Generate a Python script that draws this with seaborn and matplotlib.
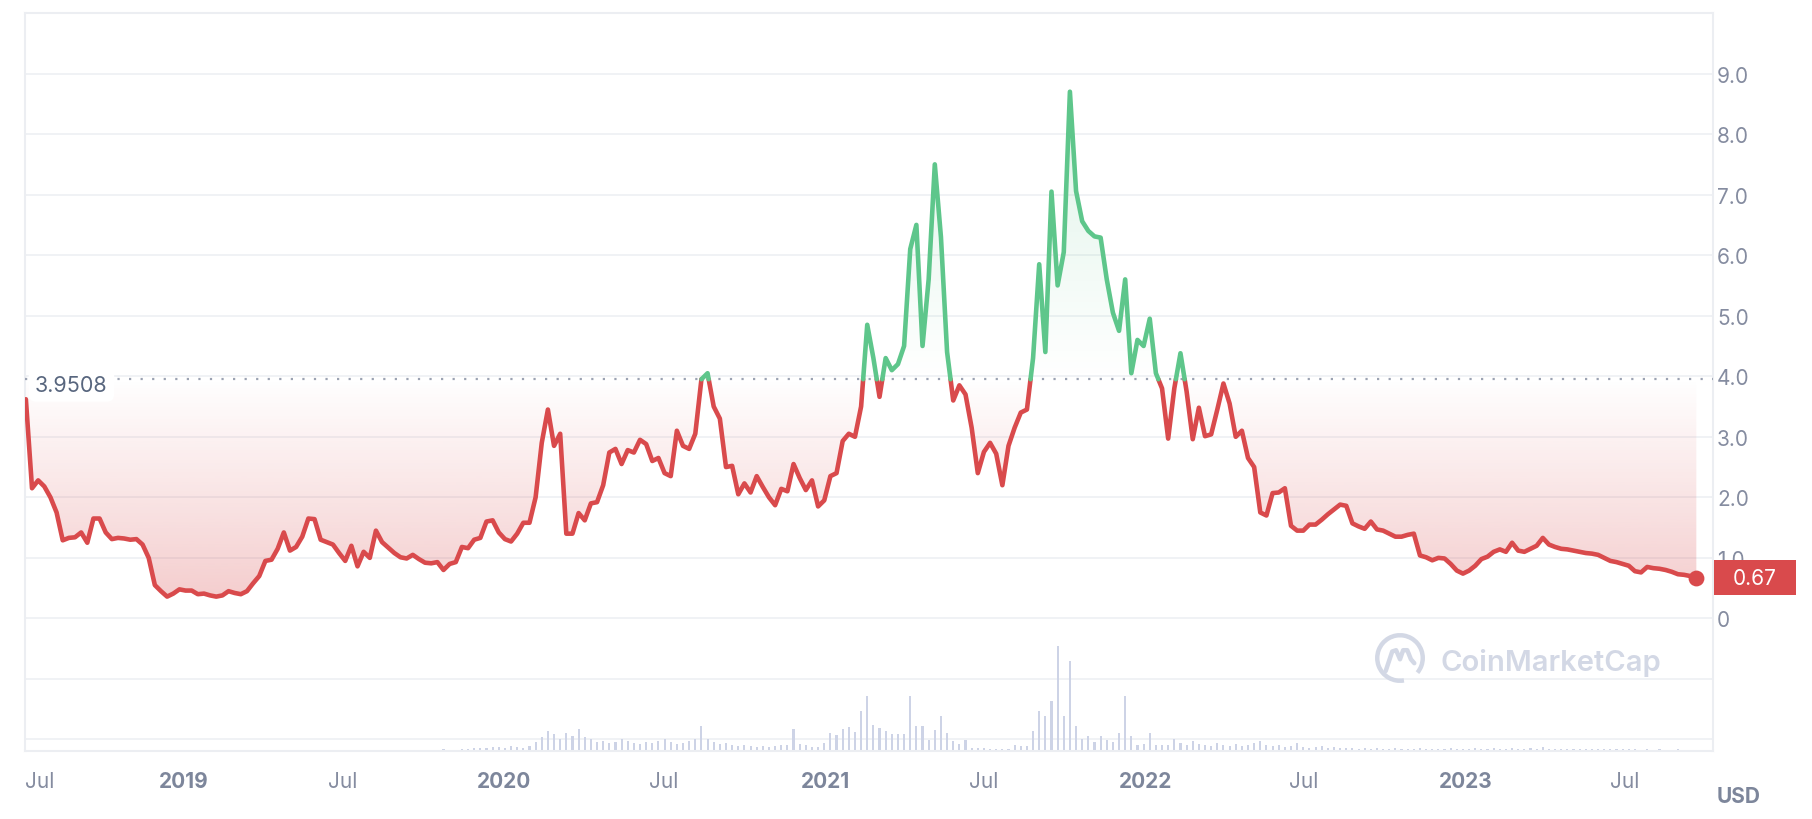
import numpy as np
import pandas as pd
import matplotlib
matplotlib.use("Agg")
import matplotlib.pyplot as plt
import matplotlib.dates as mdates
from matplotlib import transforms
from matplotlib.patches import Rectangle, Arc
import seaborn as sns

# ---------------- data ----------------
start_date = "2018-07-05"   # weekly samples
price = [
    3.62, 2.15, 2.28, 2.18, 2.00, 1.75, 1.29, 1.33, 1.34, 1.42,
    1.25, 1.65, 1.65, 1.42, 1.31, 1.33, 1.32, 1.30, 1.31, 1.22,
    1.00, 0.55, 0.45, 0.36, 0.41, 0.48, 0.46, 0.46, 0.40, 0.41,
    0.38, 0.36, 0.38, 0.45, 0.42, 0.40, 0.45, 0.58, 0.70, 0.95,
    0.97, 1.15, 1.42, 1.12, 1.18, 1.35, 1.65, 1.64, 1.30, 1.26,
    1.22, 1.08, 0.95, 1.20, 0.86, 1.10, 1.00, 1.45, 1.26, 1.17,
    1.08, 1.01, 0.99, 1.05, 0.98, 0.92, 0.91, 0.93, 0.80, 0.90,
    0.93, 1.18, 1.16, 1.30, 1.33, 1.60, 1.62, 1.42, 1.31, 1.27,
    1.40, 1.58, 1.58, 2.00, 2.90, 3.45, 2.85, 3.05, 1.40, 1.40,
    1.74, 1.62, 1.90, 1.92, 2.20, 2.74, 2.80, 2.55, 2.78, 2.74,
    2.95, 2.88, 2.60, 2.65, 2.40, 2.35, 3.10, 2.85, 2.80, 3.05,
    3.95, 4.05, 3.50, 3.30, 2.50, 2.52, 2.05, 2.23, 2.08, 2.35,
    2.17, 2.00, 1.87, 2.14, 2.10, 2.55, 2.32, 2.12, 2.28, 1.85,
    1.95, 2.35, 2.40, 2.93, 3.05, 3.00, 3.50, 4.85, 4.30, 3.66,
    4.30, 4.10, 4.20, 4.50, 6.10, 6.50, 4.50, 5.60, 7.50, 6.30,
    4.40, 3.60, 3.85, 3.70, 3.15, 2.40, 2.75, 2.90, 2.72, 2.20,
    2.85, 3.15, 3.40, 3.45, 4.30, 5.85, 4.40, 7.05, 5.50, 6.05,
    8.70, 7.06, 6.56, 6.40, 6.31, 6.29, 5.60, 5.05, 4.75, 5.60,
    4.05, 4.60, 4.50, 4.95, 4.05, 3.80, 2.97, 3.80, 4.38, 3.75,
    2.96, 3.48, 3.01, 3.04, 3.45, 3.88, 3.55, 3.00, 3.10, 2.65,
    2.50, 1.75, 1.70, 2.07, 2.08, 2.15, 1.53, 1.45, 1.45, 1.55,
    1.55, 1.63, 1.72, 1.80, 1.88, 1.86, 1.57, 1.52, 1.48, 1.60,
    1.47, 1.45, 1.40, 1.35, 1.35, 1.38, 1.40, 1.04, 1.01, 0.96,
    1.00, 0.99, 0.90, 0.79, 0.74, 0.79, 0.87, 0.98, 1.02, 1.10,
    1.14, 1.10, 1.25, 1.12, 1.10, 1.15, 1.20, 1.33, 1.22, 1.18,
    1.15, 1.14, 1.12, 1.10, 1.08, 1.07, 1.05, 1.00, 0.95, 0.93,
    0.90, 0.87, 0.78, 0.76, 0.85, 0.83, 0.82, 0.80, 0.77, 0.73,
    0.72, 0.70, 0.67,
]
volume = [
    1.0, 1.0, 0.8, 0.6, 0.5, 0.6, 0.5, 0.4, 0.5, 0.4,
    0.5, 0.4, 0.4, 0.5, 0.4, 0.4, 0.5, 0.4, 0.4, 0.3,
    0.4, 0.6, 0.4, 0.3, 0.3, 0.3, 0.3, 0.4, 0.3, 0.3,
    0.3, 0.3, 0.3, 0.4, 0.3, 0.3, 0.4, 0.5, 0.6, 0.8,
    0.9, 1.0, 1.2, 0.8, 0.8, 0.9, 1.0, 1.0, 0.8, 0.7,
    0.7, 0.7, 0.6, 0.7, 0.6, 0.7, 0.8, 1.0, 0.8, 0.7,
    0.7, 0.6, 0.7, 0.6, 0.6, 0.8, 1.0, 0.8, 1.5, 1.0,
    1.2, 2.0, 1.5, 2.5, 3.0, 2.5, 3.5, 4.0, 3.0, 5.0,
    4.0, 3.0, 5.0, 9.0, 14.0, 20.0, 17.0, 12.0, 18.0, 15.0,
    22.0, 14.0, 12.0, 9.0, 10.0, 8.0, 9.0, 12.0, 10.0, 8.0,
    7.0, 9.0, 8.0, 10.0, 12.0, 9.0, 7.0, 8.0, 10.0, 12.0,
    25.0, 12.0, 9.0, 7.0, 8.0, 6.0, 5.0, 6.0, 5.0, 4.0,
    5.0, 4.0, 5.0, 6.0, 6.0, 22.0, 7.0, 6.0, 4.0, 4.0,
    8.0, 18.0, 16.0, 22.0, 24.0, 19.0, 40.0, 55.0, 26.0, 23.0,
    20.0, 17.0, 17.0, 17.0, 55.0, 25.0, 25.0, 11.0, 21.0, 35.0,
    18.0, 10.0, 7.0, 11.0, 3.0, 3.0, 3.0, 2.0, 2.0, 2.0,
    2.0, 6.0, 5.0, 5.0, 20.0, 40.0, 35.0, 50.0, 105.0, 35.0,
    90.0, 25.0, 12.0, 15.0, 9.0, 15.0, 11.0, 9.0, 18.0, 55.0,
    15.0, 6.0, 7.0, 18.0, 6.0, 6.0, 6.0, 12.0, 8.0, 6.0,
    10.0, 7.0, 6.0, 5.0, 8.0, 6.0, 5.0, 7.0, 5.0, 6.0,
    8.0, 10.0, 6.0, 5.0, 6.0, 4.0, 5.0, 8.0, 4.0, 3.0,
    4.0, 5.0, 3.0, 4.0, 3.0, 3.0, 3.0, 2.0, 3.0, 2.0,
    3.0, 2.0, 2.0, 3.0, 2.0, 2.0, 2.0, 3.0, 2.0, 2.0,
    2.0, 2.0, 3.0, 2.0, 2.0, 2.0, 3.0, 2.0, 2.0, 3.0,
    2.0, 2.0, 3.0, 2.0, 2.0, 3.0, 2.0, 4.0, 2.0, 2.0,
    2.0, 2.0, 2.0, 2.0, 2.0, 2.0, 2.0, 2.0, 2.0, 2.0,
    2.0, 2.0, 2.0, 1.0, 2.0, 1.0, 2.0, 1.0, 1.0, 2.0,
    1.0, 1.0, 1.0,
]
baseline = 3.9508
baseline_label = "3.9508"
last_price_label = "0.67"
y_tick_values = [0, 1, 2, 3, 4, 5, 6, 7, 8, 9]
y_tick_labels = ["0", "1.0", "2.0", "3.0", "4.0", "5.0", "6.0", "7.0", "8.0", "9.0"]
x_tick_dates = ["2019-01-01", "2019-07-01", "2020-01-01", "2020-07-01", "2021-01-01",
                "2021-07-01", "2022-01-01", "2022-07-01", "2023-01-01", "2023-07-01"]
x_tick_labels = ["2019", "Jul", "2020", "Jul", "2021", "Jul", "2022", "Jul", "2023", "Jul"]
first_edge_label = "Jul"
currency = "USD"
watermark = "CoinMarketCap"
x_range = ("2018-07-04", "2023-10-10")

# ---------------- style ----------------
RED = "#d94a4c"
GREEN = "#5ec68b"
GRID = "#eff1f5"
TXT = "#858ca0"
TXT_DARK = "#58667e"
VOLC = "#cdd3e6"

sns.set_theme(style="white")
plt.rcParams["font.family"] = ["Inter", "DejaVu Sans"]

W, H = 1812, 820
fig = plt.figure(figsize=(W / 100, H / 100), dpi=100)
ax = fig.add_axes([25 / W, 68 / H, (1713 - 25) / W, (806 - 68) / H])
YMIN, YMAX = -2.19, 10.0

n = min(len(price), len(volume))
dates = pd.date_range(start_date, periods=len(price), freq="7D")
x = mdates.date2num(dates.to_pydatetime())
y = np.asarray(price, dtype=float)
b = baseline

# densify with baseline crossings
xs, ys = [x[0]], [y[0]]
for i in range(1, len(y)):
    if (y[i - 1] - b) * (y[i] - b) < 0:
        t = (b - y[i - 1]) / (y[i] - y[i - 1])
        xs.append(x[i - 1] + t * (x[i] - x[i - 1]))
        ys.append(b)
    xs.append(x[i])
    ys.append(y[i])
xs = np.array(xs)
ys = np.array(ys)

# build runs of same sign
rows = []
run = 0
cur_sign = None
for j in range(1, len(xs)):
    s = "up" if (ys[j - 1] + ys[j]) / 2 >= b else "down"
    if s != cur_sign:
        run += 1
        cur_sign = s
        rows.append((xs[j - 1], ys[j - 1], s, run))
    rows.append((xs[j], ys[j], s, run))
df = pd.DataFrame(rows, columns=["date", "price", "sign", "run"])

# gradients
ylow = np.minimum(ys, b)
yhigh = np.maximum(ys, b)
pr = ax.fill_between(xs, ylow, b, color="none", lw=0)
pg = ax.fill_between(xs, b, yhigh, color="none", lw=0)

def grad_img(color, a0, a1, n=256):
    rgb = matplotlib.colors.to_rgb(color)
    arr = np.zeros((n, 1, 4))
    arr[:, 0, :3] = rgb
    arr[:, 0, 3] = np.linspace(a0, a1, n)
    return arr

imr = ax.imshow(grad_img(RED, 0.0, 0.30), extent=[xs[0], xs[-1], 0.0, b],
                origin="upper", aspect="auto", zorder=1, interpolation="bilinear")
imr.set_clip_path(pr.get_paths()[0], ax.transData)
img = ax.imshow(grad_img(GREEN, 0.0, 0.22), extent=[xs[0], xs[-1], b, 9.0],
                origin="lower", aspect="auto", zorder=1, interpolation="bilinear")
img.set_clip_path(pg.get_paths()[0], ax.transData)

# grid lines
for gv in range(-2, 10):
    ax.axhline(gv, color=GRID, lw=1.3, zorder=0)

# volume bars
vol = np.asarray(volume[:n], dtype=float)
vscale = 1.0 / 60.5
ax.bar(x[:n], vol * vscale, bottom=YMIN, width=2.4, color=VOLC, zorder=1, linewidth=0)

# price line with seaborn
sns.lineplot(data=df, x="date", y="price", hue="sign", units="run", estimator=None,
             palette={"up": GREEN, "down": RED}, linewidth=3.3, legend=False,
             sort=False, ax=ax, zorder=4)
for ln in ax.lines:
    ln.set_solid_capstyle("round")
    ln.set_solid_joinstyle("round")

# baseline dotted
ax.axhline(b, color="#9ba2b2", lw=1.6, linestyle=(0, (1, 4.2)), zorder=3)
blend = transforms.blended_transform_factory(ax.transAxes, ax.transData)
ax.text(0.006, b - 0.1, baseline_label, transform=blend, ha="left", va="center",
        fontsize=15.5, color=TXT_DARK, zorder=6,
        bbox=dict(boxstyle="round,pad=0.3,rounding_size=0.35", fc="white", ec="none"))

# last point
ax.scatter([x[-1]], [y[-1]], s=130, color=RED, zorder=7, clip_on=False, linewidths=0)
rect = Rectangle((1.0006, y[-1] - 0.289), 82 / 1688, 0.578, transform=blend,
                 facecolor=RED, edgecolor="none", clip_on=False, zorder=10)
ax.add_patch(rect)
ax.text(1.0006 + 19 / 1688, y[-1], last_price_label, transform=blend, ha="left",
        va="center", color="white", fontsize=15, zorder=11, clip_on=False)

# axes
ax.set_ylim(YMIN, YMAX)
ax.set_xlim(mdates.datestr2num(x_range[0]), mdates.datestr2num(x_range[1]))
ax.set_xlabel("")
ax.set_ylabel("")
ax.yaxis.tick_right()
ax.set_yticks(list(range(-2, 0)) + y_tick_values)
ax.set_yticklabels(["", ""] + y_tick_labels)
ax.tick_params(axis="y", length=0, pad=3, labelsize=15, labelcolor=TXT)
ax.set_xticks([mdates.datestr2num(d) for d in x_tick_dates])
ax.set_xticklabels(x_tick_labels)
TICK_LEN, TICK_PAD = 6, 8.5
ax.tick_params(axis="x", length=TICK_LEN, width=1.2, color="#e3e6ec", pad=TICK_PAD,
               labelsize=15, labelcolor=TXT)
for lbl in ax.get_xticklabels():
    if lbl.get_text() != "Jul":
        lbl.set_fontweight("bold")
        lbl.set_color("#7d869b")
ax.annotate(first_edge_label, xy=(0, 0), xycoords="axes fraction",
            xytext=(0, -(TICK_LEN + TICK_PAD)), textcoords="offset points",
            ha="left", va="top", fontsize=15, color=TXT)
for sp in ax.spines.values():
    sp.set_color("#eceef2")
    sp.set_linewidth(1.5)
ax.grid(False)

# USD label
fig.text(1739 / W, 1 - 797 / H, currency, ha="center", va="center", fontsize=15,
         fontweight="bold", color="#7d869b")

# watermark
WM = "#d3d8e5"
fig.text(1440 / W, 1 - 663 / H, watermark, ha="left", va="center", fontsize=21,
         fontweight="semibold", color=WM, zorder=0)
lax = fig.add_axes([(1400 - 26) / W, 1 - (659 + 26) / H, 52 / W, 52 / H])
lax.set_xlim(-1, 1)
lax.set_ylim(-1, 1)
lax.axis("off")
lax.patch.set_alpha(0)
lax.add_patch(Arc((0, 0), 1.75, 1.75, theta1=-40, theta2=280, color=WM, lw=3.2))
lax.plot([-0.55, -0.3, -0.15, 0.0, 0.12, 0.28, 0.42, 0.55],
         [-0.5, 0.25, 0.3, -0.05, 0.3, 0.3, -0.05, -0.2],
         color=WM, lw=3.2, solid_capstyle="round", solid_joinstyle="round")

fig.savefig("out.png", dpi=100, facecolor="white")
